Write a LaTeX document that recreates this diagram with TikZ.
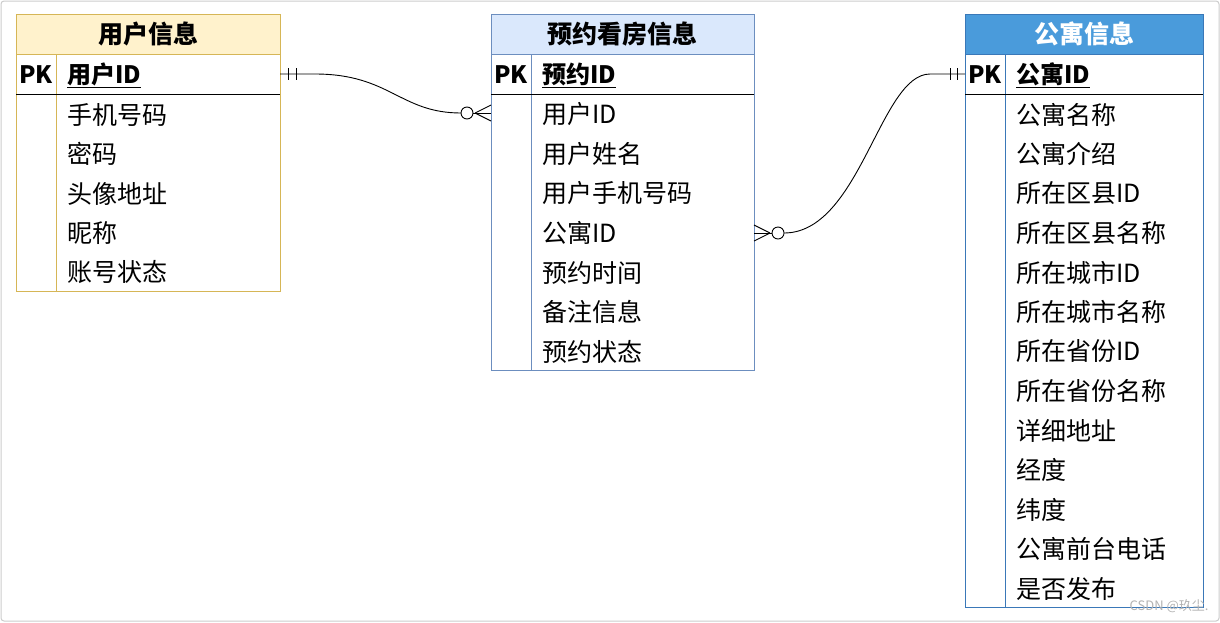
\documentclass[tikz,border=0pt]{standalone}
\usepackage{fontspec}
\setmainfont{Noto Sans CJK SC}
\begin{document}
\begin{tikzpicture}[x=1pt,y=-1pt,
  hdr/.style={draw=#1,line width=0.8pt,minimum height=40pt,anchor=north west,inner sep=0pt,font=\fontsize{25}{25}\selectfont\bfseries},
  fld/.style={anchor=west,inner sep=0pt,font=\fontsize{25}{25}\selectfont},
  pk/.style={fld,font=\fontsize{24}{24}\selectfont\bfseries},
  rel/.style={line width=0.9pt}]
\useasboundingbox (0,0) rectangle (1220,622);
\draw[gray!40,line width=1pt,rounded corners=3pt] (1,1) rectangle (1219,621);
\definecolor{y1}{HTML}{FFF2CC}\definecolor{y2}{HTML}{D6B656}
\definecolor{b1}{HTML}{DAE8FC}\definecolor{b2}{HTML}{6C8EBF}
\definecolor{c1}{HTML}{4A9BDB}\definecolor{c2}{HTML}{3A78B8}
% table 1
\node[hdr=y2,fill=y1,minimum width=264pt] (h1) at (16,14) {用户信息};
\draw[y2,line width=0.8pt] (16,54) rectangle (280,291) (56,54) -- (56,291);
\draw[line width=1pt] (16,94) -- (280,94);
\node[pk] (p1a) at (19,75) {PK};
\node[pk] (p1b) at (67,75) {\underline{用户ID}};
\foreach \t [count=\i] in {手机号码,密码,头像地址,昵称,账号状态}
  \node[fld] (r1\i) at (67,{75+39.5*\i}) {\t};
% table 2
\node[hdr=b2,fill=b1,minimum width=263pt] (h2) at (491,14) {预约看房信息};
\draw[b2,line width=0.8pt] (491,54) rectangle (754,370) (531,54) -- (531,370);
\draw[line width=1pt] (491,94) -- (754,94);
\node[pk] (p2a) at (494,75) {PK};
\node[pk] (p2b) at (542,75) {\underline{预约ID}};
\foreach \t [count=\i] in {用户ID,用户姓名,用户手机号码,公寓ID,预约时间,备注信息,预约状态}
  \node[fld] (r2\i) at (542,{75+39.5*\i}) {\t};
% table 3
\node[hdr=c2,fill=c1,text=white,minimum width=238pt] (h3) at (965,14) {公寓信息};
\draw[c2,line width=0.8pt] (965,54) rectangle (1203,607) (1005,54) -- (1005,607);
\draw[line width=1pt] (965,94) -- (1203,94);
\node[pk] (p3a) at (968,75) {PK};
\node[pk] (p3b) at (1016,75) {\underline{公寓ID}};
\foreach \t [count=\i] in {公寓名称,公寓介绍,所在区县ID,所在区县名称,所在城市ID,所在城市名称,所在省份ID,所在省份名称,详细地址,经度,纬度,公寓前台电话,是否发布}
  \node[fld] (r3\i) at (1016,{75+39.5*\i}) {\t};
% connector 1
\coordinate (a1) at (280,74); \coordinate (a2) at (491,113);
\draw[rel] (a1) -- ++(35,0) .. controls (390,74) and (400,113) .. (461,113);
\draw[rel] (473,113) -- (a2);
\draw[rel] (288,68) -- (288,80) (296,68) -- (296,80);
\draw[rel] (467,113) circle (6);
\draw[rel] (475,113) -- (491,105) (475,113) -- (491,121);
% connector 2
\coordinate (b1) at (754,233); \coordinate (b2) at (965,74);
\draw[rel] (b1) -- (772,233);
\draw[rel] (784,233) .. controls (860,233) and (880,74) .. (930,74) -- (b2);
\draw[rel] (778,233) circle (6);
\draw[rel] (770,233) -- (754,225) (770,233) -- (754,241);
\draw[rel] (950,68) -- (950,80) (957,68) -- (957,80);
\node[text=gray!60,font=\fontsize{13}{13}\selectfont,anchor=east] (wm) at (1212,606) {CSDN @玖尘.};
\end{tikzpicture}
\end{document}
